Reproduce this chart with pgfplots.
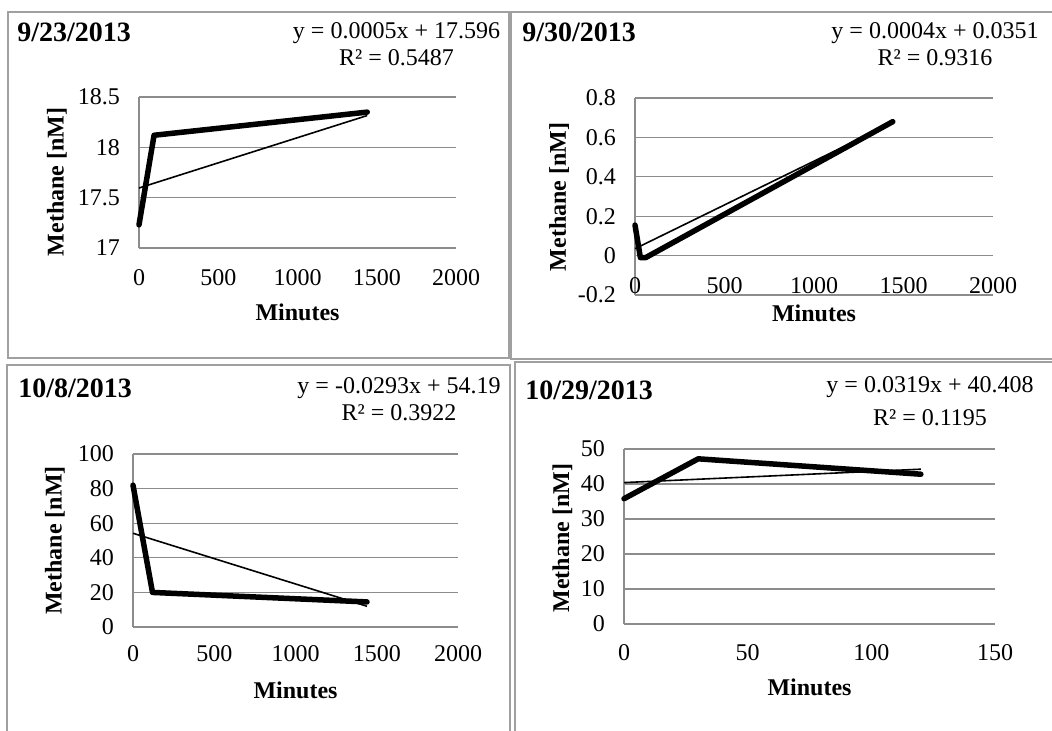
\documentclass[border=0pt]{standalone}
\usepackage{pgfplots}
\pgfplotsset{compat=1.18}
\usepackage{fontspec}
\setmainfont{Liberation Serif}
\definecolor{gridgray}{HTML}{8C8C8C}
\definecolor{framegray}{HTML}{A0A0A0}
\newcommand{\ttl}{\fontsize{14}{17}\selectfont\bfseries}
\newcommand{\eqf}{\fontsize{12}{14}\selectfont}
\newcommand{\lbf}{\fontsize{12}{14}\selectfont\bfseries}
\pgfplotsset{
  panel/.style={
    scale only axis,
    anchor=south west,
    axis x line*=bottom,
    axis y line*=left,
    axis line style={gridgray, line width=0.6pt, -},
    ymajorgrids,
    major grid style={gridgray, line width=0.6pt},
    major tick length=0pt,
    tick label style={font=\eqf},
    /pgf/number format/assume math mode=true,
    /pgf/number format/1000 sep={},
    scaled ticks=false,
    yticklabel style={anchor=east, xshift=-6pt},
    xticklabel style={anchor=base},
    every axis y label/.style={rotate=90, anchor=center, font=\lbf},
    every axis x label/.style={anchor=base, font=\lbf},
    clip=false,
  },
  meas/.style={black, line width=2.75pt, line join=round, line cap=round},
  trend/.style={black, line width=0.8pt},
}

\begin{document}
\begin{tikzpicture}
% panel frames
\draw[framegray, line width=0.75pt] (4pt,-6pt) rectangle (254.5pt,-179pt);
\draw[framegray, line width=0.75pt] (255.5pt,-6pt) rectangle (530pt,-179.5pt);
\draw[framegray, line width=0.75pt] (3.5pt,-182.5pt) rectangle (255pt,-370pt);
\draw[framegray, line width=0.75pt] (257.5pt,-181pt) rectangle (530pt,-370pt);

% 9/23/2013
\begin{axis}[panel,
  at={(69.5pt,-124pt)}, width=158.5pt, height=75.5pt,
  xmin=0, xmax=2000, ymin=17, ymax=18.5,
  xtick={0,500,1000,1500,2000}, ytick={17,17.5,18,18.5},
  xticklabel style={yshift=-18.5pt},
  xlabel={Minutes}, ylabel={Methane [nM]},
  xlabel style={at={(axis description cs:0.5,-0.481)}},
  ylabel style={at={(axis description cs:-0.259,0.439)}},
]
  \addplot[trend] coordinates {(0,17.596) (1440,18.316)};
  \addplot[meas] coordinates {(0,17.23) (95,18.12) (1440,18.35)};
\end{axis}

% 9/30/2013
\begin{axis}[panel,
  at={(317.5pt,-147.5pt)}, width=179pt, height=98.5pt,
  xmin=0, xmax=2000, ymin=-0.2, ymax=0.8,
  xtick={0,500,1000,1500,2000}, ytick={-0.2,0,0.2,0.4,0.6,0.8},
  xticklabel style={yshift=0.85pt},
  xlabel={Minutes}, ylabel={Methane [nM]},
  xlabel style={at={(axis description cs:0.5,-0.135)}},
  ylabel style={at={(axis description cs:-0.212,0.499)}},
]
  \addplot[trend] coordinates {(0,0.0351) (1440,0.675)};
  \addplot[meas] coordinates {(0,0.155) (30,-0.01) (60,-0.01) (1440,0.68)};
\end{axis}

% 10/8/2013
\begin{axis}[panel,
  at={(66.5pt,-313.5pt)}, width=162.5pt, height=86.5pt,
  xmin=0, xmax=2000, ymin=0, ymax=100,
  xtick={0,500,1000,1500,2000}, ytick={0,20,40,60,80,100},
  xticklabel style={yshift=-17.3pt},
  xlabel={Minutes}, ylabel={Methane [nM]},
  xlabel style={at={(axis description cs:0.5,-0.412)}},
  ylabel style={at={(axis description cs:-0.24,0.5)}},
]
  \addplot[trend] coordinates {(0,54.19) (1440,12.0)};
  \addplot[meas] coordinates {(0,82) (120,20) (1440,14.5)};
\end{axis}

% 10/29/2013
\begin{axis}[panel,
  at={(312pt,-312pt)}, width=185.5pt, height=87.5pt,
  xmin=0, xmax=150, ymin=0, ymax=50,
  xtick={0,50,100,150}, ytick={0,10,20,30,40,50},
  xticklabel style={yshift=-18pt},
  xlabel={Minutes}, ylabel={Methane [nM]},
  xlabel style={at={(axis description cs:0.5,-0.406)}},
  ylabel style={at={(axis description cs:-0.166,0.49)}},
]
  \addplot[trend] coordinates {(0,40.408) (120,44.236)};
  \addplot[meas] coordinates {(0,35.8) (30,47.2) (120,42.8)};
\end{axis}

% titles and trendline labels
\node[anchor=base west, inner sep=0, font=\ttl] at (8.5pt,-20.8pt) {9/23/2013};
\node[anchor=base, inner sep=0, font=\eqf] at (198.25pt,-19.2pt) {y = 0.0005x + 17.596};
\node[anchor=base, inner sep=0, font=\eqf] at (198.25pt,-32.5pt) {R² = 0.5487};

\node[anchor=base west, inner sep=0, font=\ttl] at (261pt,-20.8pt) {9/30/2013};
\node[anchor=base, inner sep=0, font=\eqf] at (467.5pt,-19.2pt) {y = 0.0004x + 0.0351};
\node[anchor=base, inner sep=0, font=\eqf] at (467.5pt,-32.5pt) {R² = 0.9316};

\node[anchor=base west, inner sep=0, font=\ttl] at (9pt,-198.7pt) {10/8/2013};
\node[anchor=base, inner sep=0, font=\eqf] at (199.5pt,-196.7pt) {y = -0.0293x + 54.19};
\node[anchor=base, inner sep=0, font=\eqf] at (199.5pt,-210pt) {R² = 0.3922};

\node[anchor=base west, inner sep=0, font=\ttl] at (262.5pt,-199.7pt) {10/29/2013};
\node[anchor=base, inner sep=0, font=\eqf] at (465pt,-196.3pt) {y = 0.0319x + 40.408};
\node[anchor=base, inner sep=0, font=\eqf] at (465pt,-212.5pt) {R² = 0.1195};

\pgfresetboundingbox
\path (0pt,0pt) rectangle (526pt,-365pt);
\end{tikzpicture}
\end{document}
